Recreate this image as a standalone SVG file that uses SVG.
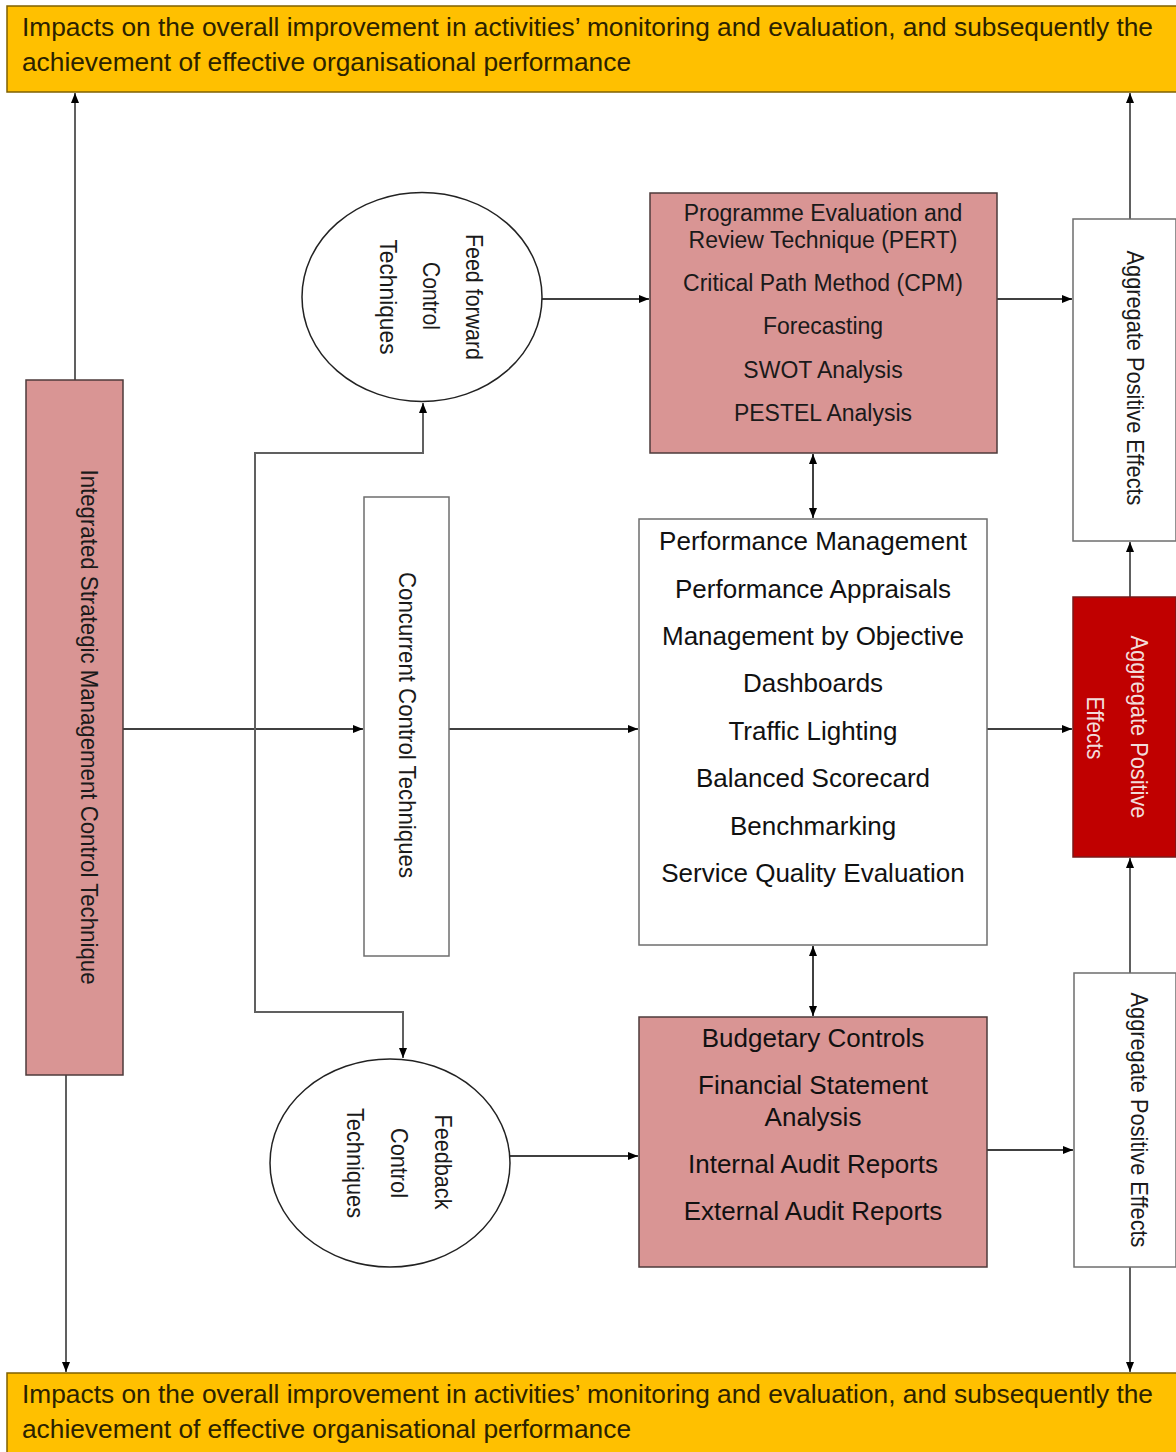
<svg xmlns="http://www.w3.org/2000/svg" width="1176" height="1452" viewBox="0 0 1176 1452">
<style>
text{font-family:"Liberation Sans",Arial,sans-serif}
.banner{fill:#FFC000;stroke:#7F6000;stroke-width:1.5}
.btxt{font-size:26px;fill:#2b2200}
.pink{fill:#D99594;stroke:#4d3b3b;stroke-width:1.5}
.white{fill:#fff;stroke:#6e6e6e;stroke-width:1.5}
.red{fill:#C00000;stroke:#7a1a1a;stroke-width:1.5}
.ell{fill:#fff;stroke:#222;stroke-width:1.5}
.t24{font-size:24px;fill:#1a1a1a}
.t23{font-size:23px;fill:#1a1a1a}
.t26{font-size:26px;fill:#111}
.rt{fill:#F2DCDB}
.h{fill:none;stroke:#000;stroke-width:1.5}
.v{fill:none;stroke:#606060;stroke-width:2}
</style>
<defs>
<marker id="ah" viewBox="0 0 10 8" refX="10" refY="4" markerWidth="10" markerHeight="8" markerUnits="userSpaceOnUse" orient="auto-start-reverse">
<path d="M0,0 L10,4 L0,8 z" fill="#000"/>
</marker>
</defs>
<rect width="1176" height="1452" fill="#fff"/>

<g id="connectors">
<path class="v" d="M75,380 V93" marker-end="url(#ah)"/>
<path class="v" d="M66,1075 V1372" marker-end="url(#ah)"/>
<path class="h" d="M123,729 H363" marker-end="url(#ah)"/>
<path class="v" d="M255,729 V453 H423 V403" marker-end="url(#ah)"/>
<path class="v" d="M255,729 V1012 H403 V1058" marker-end="url(#ah)"/>
<path class="h" d="M542,299 H649" marker-end="url(#ah)"/>
<path class="h" d="M997,299 H1072" marker-end="url(#ah)"/>
<path class="v" d="M1130,219 V93" marker-end="url(#ah)"/>
<path class="h" d="M449,729 H638" marker-end="url(#ah)"/>
<path class="h" d="M987,729 H1072" marker-end="url(#ah)"/>
<path class="v" d="M1130,597 V542" marker-end="url(#ah)"/>
<path class="v" d="M1130,973 V858" marker-end="url(#ah)"/>
<path class="v" d="M1130,1267 V1372" marker-end="url(#ah)"/>
<path class="h" d="M510,1156 H638" marker-end="url(#ah)"/>
<path class="h" d="M987,1150 H1073" marker-end="url(#ah)"/>
<path class="h" d="M813,454 V518" marker-start="url(#ah)" marker-end="url(#ah)"/>
<path class="h" d="M813,946 V1016" marker-start="url(#ah)" marker-end="url(#ah)"/>
</g>

<g id="top-banner">
<rect class="banner" x="7" y="6" width="1180" height="86"/>
<text class="btxt" x="22" y="36" textLength="1131" lengthAdjust="spacingAndGlyphs">Impacts on the overall improvement in activities’ monitoring and evaluation, and subsequently the</text>
<text class="btxt" x="22" y="71" textLength="609" lengthAdjust="spacingAndGlyphs">achievement of effective organisational performance</text>
</g>

<g id="bottom-banner">
<rect class="banner" x="7" y="1373" width="1180" height="90"/>
<text class="btxt" x="22" y="1403" textLength="1131" lengthAdjust="spacingAndGlyphs">Impacts on the overall improvement in activities’ monitoring and evaluation, and subsequently the</text>
<text class="btxt" x="22" y="1438" textLength="609" lengthAdjust="spacingAndGlyphs">achievement of effective organisational performance</text>
</g>

<g id="integrated-bar">
<rect class="pink" x="26" y="380" width="97" height="695"/>
<text class="t24" text-anchor="middle" textLength="515" lengthAdjust="spacingAndGlyphs" transform="translate(81,727) rotate(90)">Integrated Strategic Management Control Technique</text>
</g>

<g id="concurrent">
<rect class="white" x="364" y="497" width="85" height="459"/>
<text class="t24" text-anchor="middle" textLength="306" lengthAdjust="spacingAndGlyphs" transform="translate(399,725) rotate(90)">Concurrent Control Techniques</text>
</g>

<g id="feedforward">
<ellipse class="ell" cx="422" cy="297" rx="120" ry="104.5"/>
<text class="t24" text-anchor="middle" textLength="126" lengthAdjust="spacingAndGlyphs" transform="translate(466,297) rotate(90)">Feed forward</text>
<text class="t24" text-anchor="middle" textLength="68" lengthAdjust="spacingAndGlyphs" transform="translate(423,296) rotate(90)">Control</text>
<text class="t24" text-anchor="middle" textLength="115" lengthAdjust="spacingAndGlyphs" transform="translate(380,297) rotate(90)">Techniques</text>
</g>

<g id="feedback">
<ellipse class="ell" cx="390" cy="1163" rx="120" ry="104"/>
<text class="t24" text-anchor="middle" textLength="95" lengthAdjust="spacingAndGlyphs" transform="translate(435,1162) rotate(90)">Feedback</text>
<text class="t24" text-anchor="middle" textLength="70" lengthAdjust="spacingAndGlyphs" transform="translate(391,1163) rotate(90)">Control</text>
<text class="t24" text-anchor="middle" textLength="110" lengthAdjust="spacingAndGlyphs" transform="translate(347,1163) rotate(90)">Techniques</text>
</g>

<g id="pert-box">
<rect class="pink" x="650" y="193" width="347" height="260"/>
<g class="t23" text-anchor="middle">
<text x="823" y="221">Programme Evaluation and</text>
<text x="823" y="248">Review Technique (PERT)</text>
<text x="823" y="291">Critical Path Method (CPM)</text>
<text x="823" y="334">Forecasting</text>
<text x="823" y="378">SWOT Analysis</text>
<text x="823" y="421">PESTEL Analysis</text>
</g>
</g>

<g id="performance-box">
<rect class="white" x="639" y="519" width="348" height="426"/>
<g class="t26" text-anchor="middle">
<text x="813" y="550">Performance Management</text>
<text x="813" y="598">Performance Appraisals</text>
<text x="813" y="645">Management by Objective</text>
<text x="813" y="692">Dashboards</text>
<text x="813" y="740">Traffic Lighting</text>
<text x="813" y="787">Balanced Scorecard</text>
<text x="813" y="835">Benchmarking</text>
<text x="813" y="882">Service Quality Evaluation</text>
</g>
</g>

<g id="budget-box">
<rect class="pink" x="639" y="1017" width="348" height="250"/>
<g class="t26" text-anchor="middle">
<text x="813" y="1047">Budgetary Controls</text>
<text x="813" y="1094">Financial Statement</text>
<text x="813" y="1126">Analysis</text>
<text x="813" y="1173">Internal Audit Reports</text>
<text x="813" y="1220">External Audit Reports</text>
</g>
</g>

<g id="aggregate-top">
<rect class="white" x="1073" y="219" width="103" height="322"/>
<text class="t24" text-anchor="middle" textLength="255" lengthAdjust="spacingAndGlyphs" transform="translate(1127,378) rotate(90)">Aggregate Positive Effects</text>
</g>

<g id="aggregate-red">
<rect class="red" x="1073" y="597" width="103" height="260"/>
<text class="t24 rt" text-anchor="middle" textLength="183" lengthAdjust="spacingAndGlyphs" transform="translate(1131,727) rotate(90)">Aggregate Positive</text>
<text class="t24 rt" text-anchor="middle" textLength="63" lengthAdjust="spacingAndGlyphs" transform="translate(1087,728) rotate(90)">Effects</text>
</g>

<g id="aggregate-bottom">
<rect class="white" x="1074" y="973" width="102" height="294"/>
<text class="t24" text-anchor="middle" textLength="255" lengthAdjust="spacingAndGlyphs" transform="translate(1131,1120) rotate(90)">Aggregate Positive Effects</text>
</g>
</svg>
